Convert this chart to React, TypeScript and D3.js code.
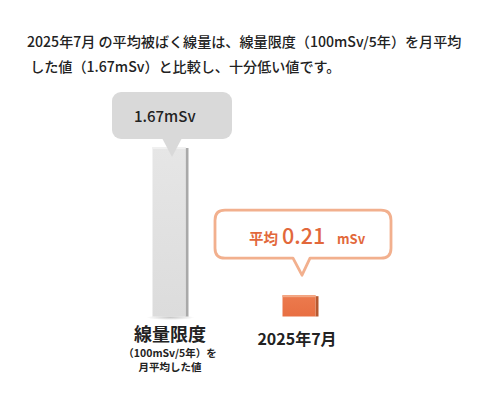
import { useRef, useEffect } from 'react';
import { select, scaleLinear, scalePoint } from 'd3';

const categories = ['線量限度', '2025年7月'];
const values = [1.67, 0.21];
const titleLines = [
  '2025年7月 の平均被ばく線量は、線量限度（100mSv/5年）を月平均',
  ' した値（1.67mSv）と比較し、十分低い値です。',
];
const limitSubLabels = ['（100mSv/5年）を', '月平均した値'];
const monthValueLabel = ['平均', '0.21', 'mSv'];

const W = 489;
const H = 400;
const FONT = '"Noto Sans CJK JP", "Noto Sans", sans-serif';

export default function App() {
  const svgRef = useRef<SVGSVGElement>(null);

  useEffect(() => {
    if (!svgRef.current) return;
    const svg = select(svgRef.current);
    svg.selectAll('*').remove();
    svg.attr('width', W).attr('height', H).style('font-family', FONT);

    const baseY = 316.5;
    const barW = 33;
    const sideW = 3;
    const x = scalePoint<string>().domain(categories).range([169, 299]);
    const y = scaleLinear().domain([0, values[0]]).range([baseY, 147]);

    const defs = svg.append('defs');
    const grey = defs.append('linearGradient').attr('id', 'greyFace').attr('x1', 0).attr('y1', 0).attr('x2', 0).attr('y2', 1);
    grey.append('stop').attr('offset', '0%').attr('stop-color', '#e6e6e6');
    grey.append('stop').attr('offset', '100%').attr('stop-color', '#dcdcdc');
    const orange = defs.append('linearGradient').attr('id', 'orangeFace').attr('x1', 0).attr('y1', 0).attr('x2', 0).attr('y2', 1);
    orange.append('stop').attr('offset', '0%').attr('stop-color', '#ec7a4e');
    orange.append('stop').attr('offset', '100%').attr('stop-color', '#e86f42');
    const shadow = defs.append('radialGradient').attr('id', 'shadow');
    shadow.append('stop').attr('offset', '0%').attr('stop-color', '#bbb').attr('stop-opacity', 0.8);
    shadow.append('stop').attr('offset', '100%').attr('stop-color', '#bbb').attr('stop-opacity', 0);

    // Title
    svg.append('g').selectAll('text').data(titleLines).join('text')
      .attr('x', 27).attr('y', (_, i) => 47 + i * 25)
      .attr('font-size', 14.1).attr('font-weight', 500).attr('fill', '#222')
      .style('white-space', 'pre')
      .text(d => d);

    const faces = ['url(#greyFace)', 'url(#orangeFace)'];
    const sides = ['#a9a9a9', '#b6582f'];
    const tops = ['#f0f0f0', '#f3a986'];

    // shadow under the grey bar
    svg.append('ellipse')
      .attr('cx', x(categories[0])! + sideW / 2).attr('cy', baseY + 1)
      .attr('rx', 24).attr('ry', 2.5).attr('fill', 'url(#shadow)');

    const bars = svg.append('g').selectAll('g').data(values).join('g');
    bars.append('rect')
      .attr('x', (_, i) => x(categories[i])! - barW / 2 + barW)
      .attr('y', d => y(d) + 1)
      .attr('width', sideW).attr('height', d => baseY - y(d) - 1)
      .attr('fill', (_, i) => sides[i]);
    bars.append('rect')
      .attr('x', (_, i) => x(categories[i])! - barW / 2)
      .attr('y', d => y(d))
      .attr('width', barW).attr('height', d => baseY - y(d))
      .attr('fill', (_, i) => faces[i]);
    bars.append('rect')
      .attr('x', (_, i) => x(categories[i])! - barW / 2)
      .attr('y', d => y(d))
      .attr('width', barW).attr('height', 2)
      .attr('fill', (_, i) => tops[i]);

    // Grey callout above the limit bar
    const gTop = y(values[0]);
    const gx = x(categories[0])!;
    const gc = svg.append('g');
    gc.append('rect')
      .attr('x', gx - 57).attr('y', gTop - 55).attr('width', 120).attr('height', 47)
      .attr('rx', 9).attr('fill', '#d9d9d9');
    gc.append('path')
      .attr('d', `M${gx - 7},${gTop - 9} L${gx + 13},${gTop - 9} L${gx + 3},${gTop + 10} Z`)
      .attr('fill', '#d9d9d9');
    gc.append('text')
      .attr('x', gx - 35).attr('y', gTop - 25)
      .attr('font-size', 15).attr('font-weight', 500).attr('fill', '#222')
      .text(`${values[0]}mSv`);

    // Orange callout above the month bar
    const oTop = y(values[1]);
    const ox = x(categories[1])!;
    const oc = svg.append('g');
    const stroke = '#f2b08e';
    const bx0 = ox - 84, bx1 = ox + 92, by0 = oTop - 85, by1 = oTop - 37;
    const px0 = ox - 6, px1 = ox + 11, pt = ox + 3, py = oTop - 20;
    const r = 10;
    oc.append('path')
      .attr('d', `M${bx0 + r},${by0} H${bx1 - r} Q${bx1},${by0} ${bx1},${by0 + r} V${by1 - r} Q${bx1},${by1} ${bx1 - r},${by1}`
        + ` H${px1} L${pt},${py} L${px0},${by1} H${bx0 + r} Q${bx0},${by1} ${bx0},${by1 - r} V${by0 + r} Q${bx0},${by0} ${bx0 + r},${by0} Z`)
      .attr('fill', '#fff').attr('stroke', stroke).attr('stroke-width', 2.8).attr('stroke-linejoin', 'round');
    const ot = oc.append('text').attr('y', oTop - 51).attr('fill', '#e2683b');
    ot.append('tspan').attr('x', ox - 50).attr('font-size', 14.5).attr('font-weight', 700).text(monthValueLabel[0]);
    ot.append('tspan').attr('x', ox - 17).attr('font-size', 21.5).attr('font-weight', 500).text(monthValueLabel[1]);
    ot.append('tspan').attr('x', ox + 38).attr('font-size', 13).attr('font-weight', 700).text(monthValueLabel[2]);

    // Category labels
    svg.append('text')
      .attr('x', gx + 1).attr('y', 341).attr('text-anchor', 'middle')
      .attr('font-size', 18).attr('font-weight', 700).attr('fill', '#222')
      .text(categories[0]);
    svg.append('g').selectAll('text').data(limitSubLabels).join('text')
      .attr('x', gx + 1).attr('y', (_, i) => 357 + i * 13.5).attr('text-anchor', 'middle')
      .attr('font-size', 10.5).attr('font-weight', 700).attr('fill', '#222')
      .text(d => d);
    svg.append('text')
      .attr('x', ox - 2).attr('y', 345).attr('text-anchor', 'middle')
      .attr('font-size', 16).attr('font-weight', 700).attr('fill', '#222')
      .text(categories[1]);
  }, []);

  return (
    <div style={{ position: 'absolute', left: 0, top: 0, width: W, height: H, background: '#fff' }}>
      <svg ref={svgRef} />
    </div>
  );
}
